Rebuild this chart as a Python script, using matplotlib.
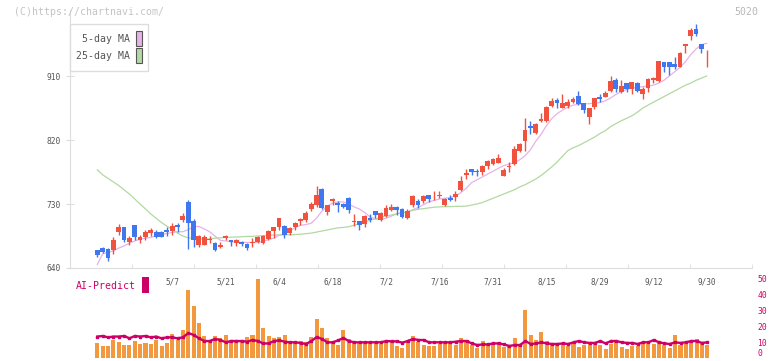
import matplotlib
matplotlib.use("Agg")
import matplotlib.pyplot as plt
from matplotlib.patches import Rectangle
import numpy as np

# daily candles (price) ------------------------------------------------------
opens = [659, 665, 668, 667, 665, 690, 697, 676, 700, 680,
         683, 689, 691, 690, 694, 692.5, 700, 707, 733, 706,
         672, 673, 680, 675.6, 670, 682, 679, 675, 677, 674,
         675, 676, 675, 681, 692, 698, 699, 689, 697.5, 705.6,
         707.5, 723, 728.6, 751, 719, 733.6, 731, 730, 738, 704,
         706, 702, 711, 720, 707.6, 713, 721.7, 726, 722.6, 710,
         728.6, 733.6, 733.6, 743, 742, 740.6, 729, 739, 739.6, 749.7,
         771, 779, 776.6, 775, 783.4, 786.3, 788, 770, 782.5, 786,
         805, 818.6, 840, 829.6, 847, 847, 868.5, 876, 865.6, 868.5,
         874, 882, 871.6, 853, 867, 880, 881, 889.4, 904.4, 888,
         900, 892, 900, 884.7, 893.6, 905, 903, 929, 929, 926.4,
         923, 952.6, 965.6, 976.4, 955, 940.5]
highs = [659, 666, 669, 668, 683, 702, 698, 685, 701, 686.5,
         694, 696, 693, 692, 698, 703, 703, 717, 735, 708.5,
         687, 686, 685, 677, 677, 686, 680, 681, 678, 674.5,
         682, 685, 686, 693, 698, 711, 700.5, 697.5, 705, 711,
         719.5, 733, 755, 752, 728.6, 739, 734, 732, 740, 716,
         706, 714, 716, 720, 719.4, 729, 730, 727, 724, 722.6,
         743, 736.6, 743, 743, 748, 748, 738, 742, 748, 769,
         779, 779, 779, 785, 792, 795, 800, 780.6, 789.5, 811.6,
         816, 851, 846.7, 844, 858, 868.5, 878.6, 878.6, 884.7, 878,
         880, 889, 872, 865, 879, 884.7, 889, 910, 906.7, 904.4,
         900.8, 902, 902, 894, 907, 909, 931, 930, 929.5, 937,
         944, 955, 977, 983, 955, 946.6]
lows = [659, 655, 661, 650, 660, 686, 676, 673, 679, 675.6,
        680, 685, 682, 683, 685, 686.5, 690, 704, 667, 670,
        669, 672, 675, 664, 668.5, 680, 671.5, 671.5, 671, 665.6,
        670, 675, 674, 680, 682, 693, 682.6, 686.5, 693, 701,
        705, 720, 726, 722.5, 715, 729, 719, 724, 718, 699,
        693, 698, 705, 710.7, 706, 712, 720, 714.6, 710, 709,
        726, 725, 731, 733, 735.6, 738, 727, 733.6, 733.6, 748,
        765, 771, 770, 770.8, 779, 785, 787, 768.8, 775.6, 785,
        803.8, 804, 828, 828, 846, 846, 867, 864.6, 864.6, 864.6,
        872.6, 869, 857.6, 843, 863, 874, 880, 888, 888, 886,
        888, 885, 888, 877.6, 887, 900, 902, 916, 911, 919.6,
        922.5, 942, 960, 966, 942, 923]
closes = [659, 658, 662, 654.5, 679, 697, 680, 682, 683, 683,
          691, 693, 684, 684, 691, 699, 697, 713.5, 703, 680,
          685, 684, 680.5, 665.6, 672, 685, 676.5, 679.7, 674, 668.5,
          676.6, 684, 685, 691.5, 697, 711, 686.7, 696, 703, 708.7,
          718, 730, 742.6, 725, 728.6, 737, 728, 726.4, 722, 706,
          700.8, 713, 707.5, 714.7, 718, 725, 726.4, 721.6, 711.5, 720,
          741.3, 728.6, 740.6, 737.5, 743, 743, 737, 736, 744, 763,
          773, 775, 774.4, 783.4, 790.5, 793.3, 794.7, 778, 784, 807,
          814.4, 834, 836.7, 842.5, 849, 867, 875, 871.6, 872.6, 874,
          877, 870.6, 862, 864.6, 878.6, 877.6, 886.6, 903, 891.5, 896,
          891.5, 901.4, 889, 891.5, 906, 906.7, 931, 923, 923, 923,
          942.8, 955, 975, 969, 948, 941.4]

ma5 = [np.nan, 645, 660, 662, 664, 668, 671, 675, 678, 680.5,
       682, 683, 685, 687, 688.5, 690, 691, 691, 694, 698,
       698.5, 695, 691, 685, 679, 678, 677, 676.5, 676, 676,
       676, 676, 677, 680, 682, 686, 688, 692, 697, 700,
       701, 703, 710, 720, 727, 731, 733, 733, 730, 726,
       723, 718, 712, 709, 708, 710, 713, 716, 718, 719,
       722, 725, 729, 733, 735, 737, 738, 739, 741, 746,
       752, 760, 764, 768, 772, 776, 780, 784, 786, 788,
       792, 798, 806, 818, 828, 840, 850, 857, 862, 866,
       869, 870, 871, 871, 872, 872.6, 875, 879, 884, 888,
       891, 893, 894, 895, 896, 897, 900, 904, 910, 916,
       922, 930, 940, 948, 954, 956]
ma25 = [np.nan, 778, 771, 766, 761, 756, 750, 744, 737, 730,
        723, 716, 710, 704, 699, 694, 689, 685, 682.5, 681.5,
        681, 680.5, 681, 682, 682.5, 683, 683.4, 683.5, 684, 684.4,
        684.6, 685, 685.5, 686, 686.3, 686.5, 686.7, 686.8, 687, 687.5,
        688.3, 689, 690.5, 692, 693.5, 695, 696.5, 697, 698, 700,
        702, 705, 707, 709, 711, 713, 714.5, 716, 717.8, 719,
        721, 722.5, 723.5, 724.5, 725.5, 726, 726.2, 726.4, 726.6, 726.8,
        727, 728.5, 730, 732, 735, 738, 741, 744, 747, 750,
        754, 757, 761, 765, 770, 776, 782, 789, 797, 805,
        809, 812, 816, 820, 824, 829, 833, 838.7, 843, 847,
        850.5, 854, 859, 864.6, 869, 873, 877, 881, 885, 889,
        893, 897, 900, 904, 907, 910]

# volume panel ---------------------------------------------------------------
volume = [np.nan,
          9.6, 7.5, 7.5, 11.25, 10, 8.1, 8.1, 10.6, 8.75, 9.4,
          8.75, 11.25, 7.5, 9.4, 15, 11.25, 17.5, 42.5, 32.5, 21.9,
          13.75, 10.6, 13.75, 12.5, 14.4, 11.25, 10.6, 10.6, 13.1, 14.4,
          49.4, 18.75, 13.75, 12.5, 13.1, 14.4, 10.6, 10, 10.6, 10,
          13.1, 24.4, 18.75, 12.5, 10.6, 8.1, 17.5, 11.9, 10.6, 10,
          10, 9.4, 10.6, 8.75,
          10.0, 10.2, 7.5, 6.25, 10.0, 13.75, 10.0, 8.1, 7.5, 7.5,
          8.75, 9.4, 10.0, 8.1, 12.5, 10.0, 8.1, 6.25, 10.6, 8.1,
          9.4, 10.0, 6.9, 7.5, 12.5, 8.1, 30, 14.4, 11.25, 16.25,
          10.6, 8.75, 8.1, 8.75, 7.5, 8.75, 6.9, 8.1, 8.75, 8.75,
          8.1, 5.6, 8.75, 10.0, 6.9, 5.6, 7.5, 7.5, 8.75, 8.75,
          8.75, 10.0, 8.1, 6.25, 14.4, 8.1, 8.75, 10.0, 11.9, 8.75, 8.1]
ai_predict = [np.nan,
              13.4, 13.75, 12.9, 13.4, 13.4, 13.75, 12.3, 13.75, 13.4, 13.75,
              12.9, 13.4, 12.3, 12.9, 12.9, 12.3, 12.9, 15.6, 14.4, 12.3,
              10.6, 10.6, 11.9, 11.25, 9.8, 10.6, 10.6, 10.6, 10.2, 11.25,
              10.6, 9.1, 9.1, 10.6, 11, 10.2, 9.8, 9.8, 9.4, 8.75,
              10.6, 13.1, 11.9, 9.8, 9.8, 11, 12.5, 10.6, 9.8, 9.8,
              9.8, 9.8, 9.8, 9.8,
              10.6, 10.4, 10.4, 9.6, 10.6, 11.9, 11.25, 11.25, 9.8, 9.8,
              9.8, 9.8, 9.8, 10.2, 10.6, 10.6, 9.1, 8.1, 8.5, 8.5,
              9.1, 9.1, 8.5, 7.5, 8.1, 8.1, 10.6, 8.75, 9.1, 9.8,
              9.1, 8.75, 8.75, 9.1, 8.75, 9.8, 10.6, 9.8, 9.4, 9.4,
              10.6, 9.1, 10.6, 10.6, 9.8, 9.4, 9.4, 8.75, 9.8, 9.8,
              11.25, 9.8, 9.1, 8.75, 9.8, 9.4, 9.8, 10.6, 10.6, 9.4, 9.8]

date_pos = [15, 25, 35, 45, 55, 65, 75, 85, 95, 105, 115]
date_labels = ["5/7", "5/21", "6/4", "6/18", "7/2", "7/16",
               "7/31", "8/15", "8/29", "9/12", "9/30"]
price_ticks = [640, 730, 820, 910]
vol_ticks = [0, 10, 20, 30, 40, 50]

RED = "#f0523f"
BLUE = "#3f78ee"
PINK = "#e8b2e8"
GREEN = "#b2d9a2"
ORANGE = "#f2983f"
CRIMSON = "#cc0066"
GRID = "#dddddd"
TXT = "#555555"
MONO = "DejaVu Sans Mono"

W, H = 772, 361
fig = plt.figure(figsize=(W / 100, H / 100), dpi=100)


def box(l, t, r, b):
    # pixel box -> figure fractions
    return [l / W, 1 - b / H, (r - l) / W, (b - t) / H]


ax = fig.add_axes(box(70, 10, 752, 268))
axv = fig.add_axes(box(70, 270, 752, 358))
axv.patch.set_visible(False)

o = np.array(opens)
c = np.array(closes)
idx = np.arange(len(o))
cols = np.where(c >= o, RED, BLUE)

ax.vlines(idx, lows, highs, colors=cols, lw=1.0, zorder=3)
ax.bar(idx, np.maximum(np.abs(c - o), 1.1), bottom=np.minimum(o, c),
       width=0.9, color=cols, lw=0, zorder=3)
ax.plot(idx, ma5, color=PINK, lw=0.9, zorder=2)
ax.plot(idx, ma25, color=GREEN, lw=0.9, zorder=2)

px_per_day = 5.35
x0 = -22 / px_per_day
x1 = 660 / px_per_day
ax.set_xlim(x0, x1)
ax.set_ylim(640, 640 + 258 * 90 / 64)

for s in ["top", "right"]:
    ax.spines[s].set_visible(False)
for s in ["left", "bottom"]:
    ax.spines[s].set_color(GRID)

ax.set_yticks(price_ticks)
ax.set_yticklabels([str(v) for v in price_ticks], family=MONO, fontsize=5.7, color=TXT)
ax.tick_params(axis="y", direction="inout", length=6, color=GRID, pad=4)

ax.set_xticks(date_pos)
ax.set_xticklabels(date_labels, family=MONO, fontsize=5.6, color=TXT)
ax.set_xticks(x0 + np.arange(12) * 62.05 / px_per_day, minor=True)
ax.tick_params(axis="x", which="major", length=0, pad=7)
ax.tick_params(axis="x", which="minor", direction="in", length=3, color=GRID)

axv.bar(idx, volume, width=0.75, color=ORANGE, lw=0, zorder=2)
axv.plot(idx, ai_predict, color=CRIMSON, lw=1.7, marker="s", ms=2.0, zorder=3)
axv.set_xlim(x0, x1)
axv.set_ylim(0, 88 / 1.6)
for s in axv.spines.values():
    s.set_visible(False)
axv.set_xticks([])
axv.yaxis.tick_right()
axv.set_yticks(vol_ticks)
axv.set_yticklabels([str(v) for v in vol_ticks], family=MONO, fontsize=5.8, color=CRIMSON)
axv.tick_params(axis="y", length=0, pad=4)
# keep the bottom "0" inside the canvas
axv.get_yticklabels()[0].set_verticalalignment("bottom")

# overlay in pixel coords for watermark / legend boxes
ov = fig.add_axes([0, 0, 1, 1])
ov.set_xlim(0, W)
ov.set_ylim(H, 0)
ov.axis("off")

ov.text(14, 12, "(C)https://chartnavi.com/", family=MONO, fontsize=7.1,
        color="#c4c4c4", va="center", ha="left")
ov.text(758, 12, "5020", family=MONO, fontsize=7.1, color="#b8b8b8",
        va="center", ha="right")

ov.add_patch(Rectangle((70, 24), 78, 47, fc="white", ec=GRID, lw=1))
ov.text(130, 39, "5-day MA", family=MONO, fontsize=7.1, color=TXT, ha="right", va="center")
ov.text(130, 56, "25-day MA", family=MONO, fontsize=7.1, color=TXT, ha="right", va="center")
ov.add_patch(Rectangle((136, 31), 6, 15, fc=PINK, ec="#555555", lw=0.8))
ov.add_patch(Rectangle((136, 48), 6, 15, fc=GREEN, ec="#555555", lw=0.8))

ov.text(76, 286, "AI-Predict", family=MONO, fontsize=7.1, color=CRIMSON, ha="left", va="center")
ov.add_patch(Rectangle((142, 277), 7, 16, fc=CRIMSON, ec="none"))

fig.savefig("out.png", dpi=100)
